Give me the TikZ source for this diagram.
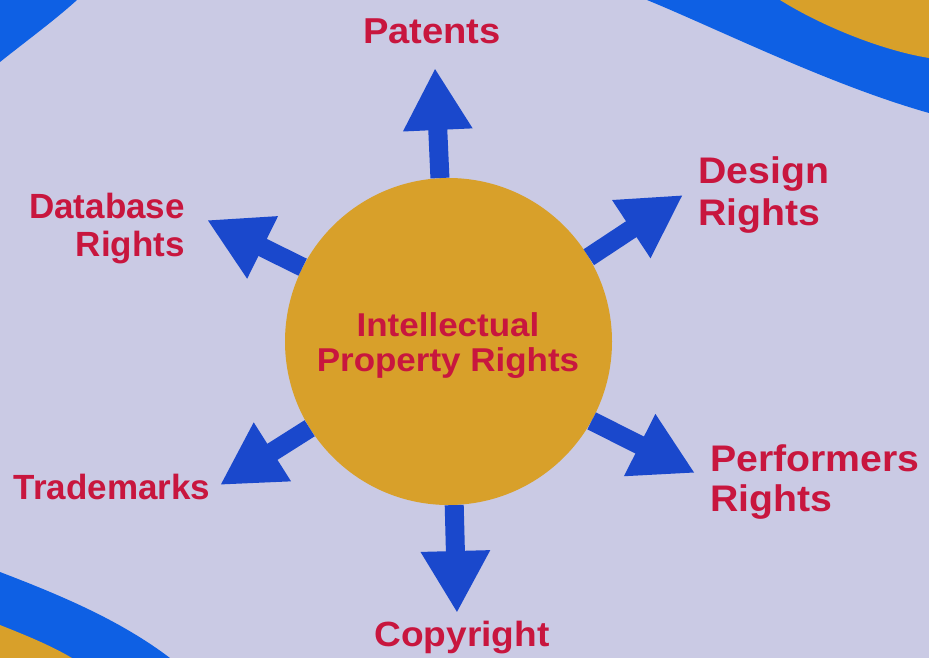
\documentclass[tikz,border=0pt]{standalone}
\usepackage{fontspec}
\setmainfont{Liberation Sans}
\newfontfamily\widefont[FakeStretch=1.06]{Liberation Sans}
\usetikzlibrary{arrows.meta}
\definecolor{bglav}{RGB}{202,202,228}
\definecolor{bandblue}{RGB}{14,96,228}
\definecolor{arrowblue}{RGB}{26,72,204}
\definecolor{goldc}{RGB}{216,160,42}
\definecolor{labelred}{RGB}{200,22,62}
\tikzset{
  lbl/.style={inner sep=0pt, text=labelred, font=\fontsize{35}{39}\selectfont\bfseries},
  hubtext/.style={inner sep=0pt, text=labelred, font=\widefont\fontsize{33}{35}\selectfont\bfseries, align=center},
  hub/.style={circle, fill=goldc, minimum size=327pt, inner sep=0pt},
  blockarrow/.style={draw=arrowblue, line width=19pt, -{Triangle[length=62pt,width=65pt]}, arrowblue}
}
\begin{document}
\begin{tikzpicture}[x=1pt,y=-1pt]
\useasboundingbox (0,0) rectangle (929,658);
\fill[bglav] (0,0) rectangle (929,658);
% corner swooshes
\fill[bandblue] (0,0) -- (77,0) .. controls (55,20) and (25,42) .. (0,62) -- cycle;
\fill[bandblue] (647,0) .. controls (720,30) and (830,85) .. (929,113) -- (929,0) -- cycle;
\fill[goldc] (780,0) .. controls (820,25) and (880,50) .. (929,58) -- (929,0) -- cycle;
\fill[bandblue] (0,572) .. controls (60,595) and (120,620) .. (170,658) -- (0,658) -- cycle;
\fill[goldc] (0,625) .. controls (25,635) and (50,645) .. (72,658) -- (0,658) -- cycle;
% hub
\node[hub] (c) at (448.5,341.5) {};
\node[hubtext, anchor=north] (ct) at (448,312) {Intellectual\\Property Rights};
% arrow tips
\coordinate (tpat) at (435,68);
\coordinate (tdes) at (683,195);
\coordinate (tdat) at (207,220);
\coordinate (ttra) at (220,485);
\coordinate (tcop) at (457,613);
\coordinate (tper) at (695,473);
\draw[blockarrow] (c.93.9) -- (tpat);
\draw[blockarrow] (c.31) -- (tdes);
\draw[blockarrow] (c.153.7) -- (tdat);
\draw[blockarrow] (c.212.6) -- (ttra);
\draw[blockarrow] (c.272) -- (tcop);
\draw[blockarrow] (c.331.2) -- (tper);
% labels
\node[lbl, anchor=north, font=\widefont\fontsize{36}{40}\selectfont\bfseries] (pat) at (432,19) {Patents};
\node[lbl, anchor=north west, align=left, font=\widefont\fontsize{37}{42}\selectfont\bfseries] (des) at (698,156) {Design\\Rights};
\node[lbl, anchor=north east, align=right, font=\fontsize{35}{38}\selectfont\bfseries] (dat) at (185,193) {Database\\Rights};
\node[lbl, anchor=north] (tra) at (112,474) {Trademarks};
\node[lbl, anchor=north west, align=left, font=\widefont\fontsize{37}{40}\selectfont\bfseries] (per) at (710,444) {Performers\\Rights};
\node[lbl, anchor=north, font=\widefont\fontsize{35}{39}\selectfont\bfseries] (cop) at (462,621) {Copyright};
\end{tikzpicture}
\end{document}
